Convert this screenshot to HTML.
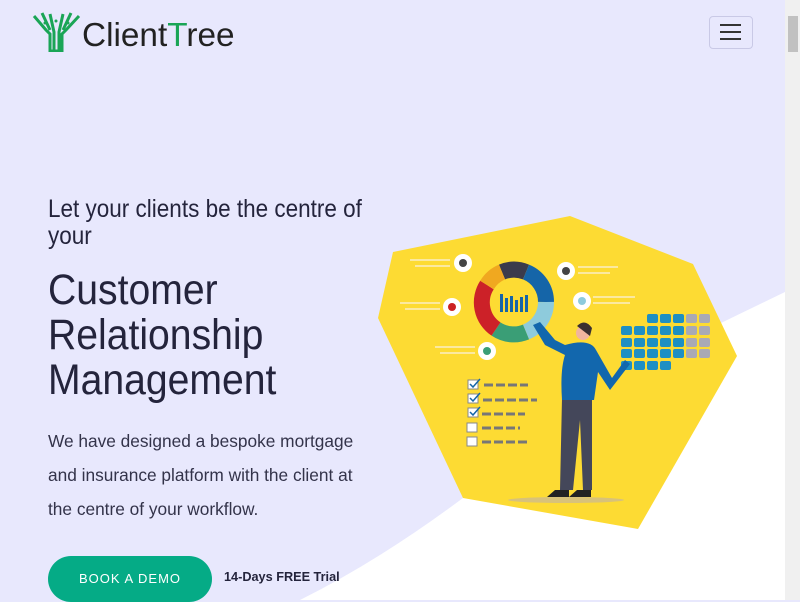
<!DOCTYPE html>
<html><head><style>
html,body{margin:0;padding:0;width:800px;height:600px;overflow:hidden;background:#e8e8fd;font-family:"Liberation Sans",sans-serif;}
.abs{position:absolute}
.h{color:#24243c;transform-origin:0 0;transform:scaleX(0.9);white-space:nowrap}
</style></head><body>
<svg class="abs" style="left:0;top:0" width="800" height="600">
<path d="M785,292 L723,322 Q600,390 463,498 Q380,560 300,600 L785,600 Z" fill="#fff"/>
<polygon points="393,252 570,216 693,264 737,356 638,529 463,498 378,318" fill="#fddb33"/>
<g transform="translate(514,302)">
<path d="M-12,-30 A32,32 0 0 1 12,-30" stroke="#3b3b4c" stroke-width="16" fill="none"/>
<path d="M12,-30 A32,32 0 0 1 32,0" stroke="#1565a8" stroke-width="16" fill="none"/>
<path d="M32,0 A32,32 0 0 1 12,30" stroke="#8ecbdc" stroke-width="16" fill="none"/>
<path d="M12,30 A32,32 0 0 1 -18,27" stroke="#3a9e76" stroke-width="16" fill="none"/>
<path d="M-18,27 A32,32 0 0 1 -27,-17" stroke="#cc2128" stroke-width="16" fill="none"/>
<path d="M-27,-17 A32,32 0 0 1 -12,-30" stroke="#f0a820" stroke-width="16" fill="none"/>
<rect x="-14" y="-8" width="3" height="18" fill="#1565a8"/><rect x="-9" y="-4" width="3" height="14" fill="#1565a8"/><rect x="-4" y="-6" width="3" height="16" fill="#1565a8"/><rect x="1" y="-2" width="3" height="12" fill="#1565a8"/><rect x="6" y="-5" width="3" height="15" fill="#1565a8"/><rect x="11" y="-7" width="3" height="17" fill="#1565a8"/>
</g>
<g fill="#fff"><circle cx="463" cy="263" r="9"/><circle cx="566" cy="271" r="9"/><circle cx="452" cy="307" r="9"/><circle cx="582" cy="301" r="9"/><circle cx="487" cy="351" r="9"/></g>
<g fill="#444"><circle cx="463" cy="263" r="4"/><circle cx="566" cy="271" r="4"/><circle cx="452" cy="307" r="4" fill="#c22"/><circle cx="582" cy="301" r="4" fill="#8ecbdc"/><circle cx="487" cy="351" r="4" fill="#3a9e76"/></g>
<g stroke="#fbe9a0" stroke-width="2"><line x1="410" y1="260" x2="450" y2="260"/><line x1="415" y1="266" x2="450" y2="266"/><line x1="400" y1="303" x2="440" y2="303"/><line x1="405" y1="309" x2="440" y2="309"/><line x1="435" y1="347" x2="475" y2="347"/><line x1="440" y1="353" x2="475" y2="353"/><line x1="578" y1="267" x2="618" y2="267"/><line x1="578" y1="273" x2="610" y2="273"/><line x1="593" y1="297" x2="635" y2="297"/><line x1="593" y1="303" x2="630" y2="303"/></g>
<g fill="#1e8fc3">
<rect x="647" y="314" width="11" height="9" rx="2"/><rect x="660" y="314" width="11" height="9" rx="2"/><rect x="673" y="314" width="11" height="9" rx="2"/>
<rect x="621" y="326" width="11" height="9" rx="2"/><rect x="634" y="326" width="11" height="9" rx="2"/><rect x="647" y="326" width="11" height="9" rx="2"/><rect x="660" y="326" width="11" height="9" rx="2"/><rect x="673" y="326" width="11" height="9" rx="2"/>
<rect x="621" y="338" width="11" height="9" rx="2"/><rect x="634" y="338" width="11" height="9" rx="2"/><rect x="647" y="338" width="11" height="9" rx="2"/><rect x="660" y="338" width="11" height="9" rx="2"/><rect x="673" y="338" width="11" height="9" rx="2"/>
<rect x="621" y="349" width="11" height="9" rx="2"/><rect x="634" y="349" width="11" height="9" rx="2"/><rect x="647" y="349" width="11" height="9" rx="2"/><rect x="660" y="349" width="11" height="9" rx="2"/><rect x="673" y="349" width="11" height="9" rx="2"/>
<rect x="621" y="361" width="11" height="9" rx="2"/><rect x="634" y="361" width="11" height="9" rx="2"/><rect x="647" y="361" width="11" height="9" rx="2"/><rect x="660" y="361" width="11" height="9" rx="2"/>
</g>
<g fill="#a9a9b5"><rect x="686" y="314" width="11" height="9" rx="2"/><rect x="699" y="314" width="11" height="9" rx="2"/><rect x="686" y="326" width="11" height="9" rx="2"/><rect x="699" y="326" width="11" height="9" rx="2"/><rect x="686" y="338" width="11" height="9" rx="2"/><rect x="699" y="338" width="11" height="9" rx="2"/><rect x="686" y="349" width="11" height="9" rx="2"/><rect x="699" y="349" width="11" height="9" rx="2"/></g>
<g fill="#fff" stroke="#888" stroke-width="1"><rect x="468" y="380" width="10" height="9"/><rect x="468" y="394" width="10" height="9"/><rect x="468" y="408" width="10" height="9"/><rect x="467" y="423" width="10" height="9"/><rect x="467" y="437" width="10" height="9"/></g>
<g stroke="#1565a8" stroke-width="1.5" fill="none"><path d="M470,384 l3,3 l7,-8"/><path d="M470,398 l3,3 l7,-8"/><path d="M470,412 l3,3 l7,-8"/></g>
<g stroke="#777" stroke-width="3" stroke-dasharray="9,3"><line x1="484" y1="385" x2="528" y2="385"/><line x1="483" y1="400" x2="537" y2="400"/><line x1="482" y1="414" x2="525" y2="414"/><line x1="482" y1="428" x2="520" y2="428"/><line x1="482" y1="442" x2="527" y2="442"/></g>
<ellipse cx="566" cy="500" rx="58" ry="3" fill="#d8c27a"/>
<path d="M562,398 L592,398 L592,490 L583,490 L580,420 L573,490 L560,490 Z" fill="#44475a"/>
<path d="M555,490 h14 v7 h-22 z M577,490 h14 v7 h-22 z" fill="#222"/>
<path d="M565,345 Q590,338 596,350 L612,378 L625,360 L630,364 L610,390 L598,372 L594,400 L562,400 Q560,370 565,355 L545,345 L533,325 L540,322 L555,340 Z" fill="#1267ad"/>
<circle cx="583" cy="333" r="7" fill="#f1b59e"/>
<path d="M577,326 Q585,318 592,328 L590,336 Z" fill="#3b3030"/>
</svg>

<svg class="abs" style="left:32px;top:12px" width="50" height="40" viewBox="0 0 50 40">
<g stroke="#1aa556" stroke-width="3" fill="none" stroke-linejoin="miter">
<path d="M2,4 L14,18 L18,22 V39 H30 V22 L34,18 L47,4"/>
<path d="M10,1 L18,18 M39,1 L31,18 M18,2 L22,20 V39 M31,2 L27,20 V39"/>
</g>
<g fill="#1aa556"><circle cx="13" cy="11" r="1.5"/><circle cx="24" cy="9" r="1.5"/><circle cx="36" cy="11" r="1.5"/></g>
</svg>
<div class="abs" style="left:82px;top:16px;font-size:33px;color:#222;transform-origin:0 0;transform:scaleX(1.01)">Client<span style="color:#1aa556">T</span>ree</div>
<div class="abs" style="left:709px;top:16px;width:42px;height:31px;border:1px solid #c9c9e6;border-radius:4px;"></div>
<div class="abs" style="left:720px;top:24px;width:21px;height:2px;background:#333;box-shadow:0 7px 0 #333,0 14px 0 #333"></div>
<div class="abs" style="left:785px;top:0;width:15px;height:600px;background:#f0f0f0"></div>
<div class="abs" style="left:788px;top:16px;width:10px;height:36px;background:#c1c1c1"></div>

<div class="abs h" style="left:48px;top:196px;font-size:25px;line-height:27px;">Let your clients be the centre of<br>your</div>
<div class="abs h" style="left:48px;top:268px;font-size:43px;line-height:45px;transform:scaleX(0.91)">Customer<br>Relationship<br>Management</div>
<div class="abs" style="left:48px;top:424px;font-size:17.3px;line-height:34px;color:#33334a;">We have designed a bespoke mortgage<br>and insurance platform with the client at<br>the centre of your workflow.</div>
<div class="abs" style="left:48px;top:556px;width:164px;height:46px;border-radius:23px;background:#05ab86;color:#fff;font-size:13px;letter-spacing:1px;text-align:center;line-height:46px;">BOOK A DEMO</div>
<div class="abs" style="left:224px;top:570px;font-size:12.7px;font-weight:bold;color:#24243c">14-Days FREE Trial</div>
</body></html>
